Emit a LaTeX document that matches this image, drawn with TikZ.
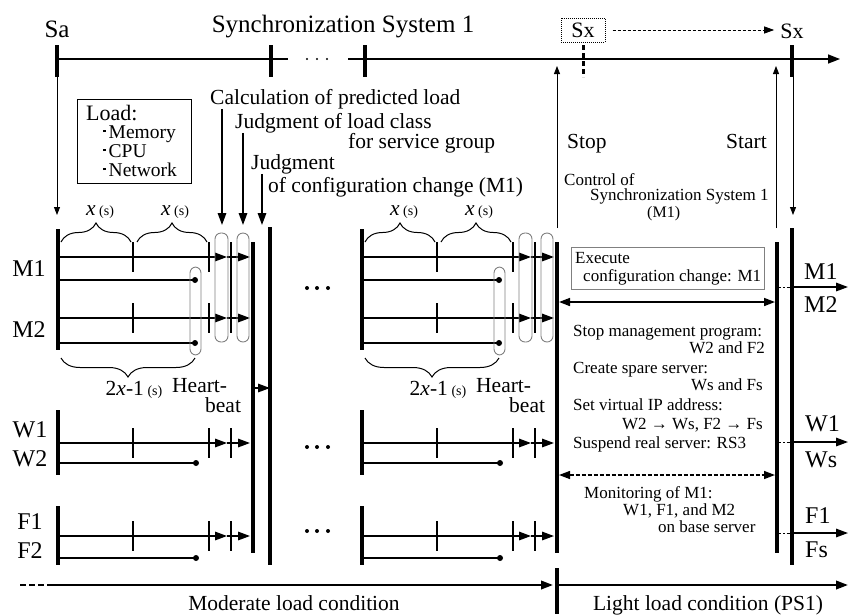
\documentclass[tikz,border=0pt]{standalone}
\usepackage{fontspec}
\setmainfont{Liberation Serif}
\usetikzlibrary{positioning,arrows.meta,decorations.pathreplacing}
\newcommand{\sqb}{\raisebox{0.3em}{\rule{2.5pt}{2.5pt}}\hspace{3pt}}
\newcommand{\secs}{{\fontsize{14}{16}\selectfont(s)}}

\begin{document}
\begin{tikzpicture}[
    x=1pt, y=-1pt,
    big/.style={font=\fontsize{25}{27}\selectfont, inner sep=0pt},
    grp/.style={font=\fontsize{24}{26}\selectfont, inner sep=0pt},
    txt/.style={font=\fontsize{21.5}{23}\selectfont, inner sep=0pt},
    sm/.style={font=\fontsize{17}{19}\selectfont, inner sep=0pt},
    bar/.style={line width=3.6pt},
    ln/.style={line width=1.6pt},
    thinln/.style={line width=0.9pt},
    arr/.style={ln, -{Triangle[length=12pt,width=8.5pt]}},
    tarr/.style={thinln, -{Triangle[length=8pt,width=6pt]}},
    capsule/.style={draw=gray, line width=0.9pt, rounded corners=6pt},
    brc/.style={decorate, decoration={brace, amplitude=19pt}, line width=1pt},
    dot/.style={circle, fill, inner sep=0pt, minimum size=6pt}
]
\useasboundingbox (0,0) rectangle (850,614);

% time axis
\draw[ln] (57,59) -- (288,59);
\draw[ln, -{Triangle[length=12pt,width=9pt]}] (348,59) -- (840,59);
\foreach \xx in {57,271,365,792} \draw[bar] (\xx,45) -- (\xx,77);
\draw[line width=3pt, dash pattern=on 5pt off 3pt] (583,45) -- (583,77);
\foreach \xx in {307,317,327} \fill (\xx,59) circle (1.1pt);

\node[big, anchor=base] (sa) at (57,37) {Sa};
\node[big, anchor=base] (sync) at (343,32) {Synchronization System 1};
\node[draw, densely dotted, line width=1pt, font=\fontsize{22}{24}\selectfont, inner sep=0pt,
      minimum width=44pt, minimum height=24pt] (sx0) at (583,30) {Sx};
\node[font=\fontsize{22}{24}\selectfont, inner sep=0pt, anchor=base] (sx1) at (792,38) {Sx};
\draw[thinln, dash pattern=on 3pt off 2pt, -{Triangle[length=10pt,width=7pt]}]
    ([xshift=7pt]sx0.east) -- ([xshift=-6pt]sx0.east -| sx1.west);

\draw[tarr] (57,77) -- (57,215);
\draw[tarr] (557,228) -- (557,66);
\draw[tarr] (776,228) -- (776,66);
\draw[tarr] (793,77) -- (793,215);

% load box
\node[draw, line width=1pt, minimum width=114pt, minimum height=84pt, inner sep=0pt] (loadbox) at (134,141) {};
\node[font=\fontsize{22}{24}\selectfont, inner sep=0pt, anchor=base west] (load) at (86,120) {Load:};
\node[font=\fontsize{19.5}{21}\selectfont, inner sep=0pt, anchor=base west] (mem) at (103,138) {\sqb Memory};
\node[font=\fontsize{19.5}{21}\selectfont, inner sep=0pt, anchor=base west] (cpu) at (103,157) {\sqb CPU};
\node[font=\fontsize{19.5}{21}\selectfont, inner sep=0pt, anchor=base west] (net) at (103,176) {\sqb Network};

% steps
\node[txt, anchor=base west] (calc) at (210,104) {Calculation of predicted load};
\node[txt, anchor=base west] (jload) at (235,128) {Judgment of load class};
\node[txt, anchor=base west] (jload2) at (348,148) {for service group};
\node[txt, anchor=base west] (jconf) at (251,169) {Judgment};
\node[txt, anchor=base west] (jconf2) at (268,192) {of configuration change (M1)};
\coordinate (ta) at (222,225);
\coordinate (tb) at (243,225);
\coordinate (tc) at (262,225);
\draw[arr] (calc.south -| ta) -- (ta);
\draw[arr] (jload.south -| tb) -- (tb);
\draw[arr] (jconf.south -| tc) -- (tc);

% groups
\node[grp, anchor=base] (m1) at (29,276) {M1};
\node[grp, anchor=base] (m2) at (29,337) {M2};
\node[grp, anchor=base] (w1) at (30,437) {W1};
\node[grp, anchor=base] (w2) at (30,466) {W2};
\node[grp, anchor=base] (f1) at (30,529) {F1};
\node[grp, anchor=base] (f2) at (30,558) {F2};

\foreach \dx in {0,304}{
\begin{scope}[xshift=\dx pt]
  \draw[bar] (58,229) -- (58,350);
  \draw[bar] (58,410) -- (58,475);
  \draw[bar] (58,506) -- (58,565);
  \draw[bar] (253,242) -- (253,553);
  \draw[brc] (61,242) -- (131,242);
  \draw[brc] (137,242) -- (207,242);
  \draw[brc] (195,358) -- (61,358);
  \node[txt, anchor=base] (xa-\dx) at (100,215) {\textit{x}\,\secs};
  \node[txt, anchor=base] (xb-\dx) at (175,215) {\textit{x}\,\secs};
  \node[txt, anchor=base] (xc-\dx) at (134,395) {2\textit{x}-1\,\secs};
  \node[txt, anchor=base west] (hb-\dx) at (172,392) {Heart-};
  \node[txt, anchor=base west] (bt-\dx) at (205,412) {beat};
  \foreach \yy in {257,318,443,536}{
    \draw[arr] (58,\yy) -- (227,\yy);
    \draw[arr] (227,\yy) -- (250,\yy);
    \draw[ln] (133,\yy-15) -- (133,\yy+15);
    \draw[ln] (209,\yy-15) -- (209,\yy+15);
  }
  \draw[ln] (231,242) -- (231,333);
  \foreach \yy in {443,536} \draw[ln] (231,\yy-15) -- (231,\yy+15);
  \foreach \yy/\xe in {280/195,343/195,463/196,558/196}
    \draw[ln] (58,\yy) -- (\xe,\yy) node[dot] (d\yy-\dx) {};
  \draw[capsule] (215,233) rectangle (228,342);
  \draw[capsule] (237,233) rectangle (249,342);
  \draw[capsule] (190,267) rectangle (201,355);
\end{scope}
}

\draw[bar] (270,227) -- (270,565);
\draw[arr] (253,388) -- (270,388);

\foreach \yy in {288,447,531}
  \foreach \xx in {307,317,328} \fill (\xx,\yy) circle (2pt);

% light load side
\node[txt, anchor=base west] (stop) at (567,148) {Stop};
\node[txt, anchor=base west] (start) at (726,148) {Start};
\node[sm, anchor=base west] (ctl1) at (564,185) {Control of};
\node[sm, anchor=base west] (ctl2) at (590,200) {Synchronization System 1};
\node[font=\fontsize{16}{18}\selectfont, inner sep=0pt, anchor=base west] (ctl3) at (647,217) {(M1)};

\draw[bar] (777,242) -- (777,553);
\draw[bar] (792,228) -- (792,565);

\node[draw=gray, line width=0.9pt, minimum width=193pt, minimum height=42pt, inner sep=0pt] (exec) at (667.5,268) {};
\node[sm, anchor=base west] (ex1) at (575,263) {Execute};
\node[sm, anchor=base west] (ex2) at (583,281) {configuration change: M1};
\draw[ln, {Triangle[length=11pt,width=8pt]}-{Triangle[length=11pt,width=8pt]}] (559,302) -- (775,302);

\node[sm, anchor=base west] (s1) at (573,336) {Stop management program:};
\node[sm, anchor=base east] (s2) at (765,353) {W2 and F2};
\node[sm, anchor=base west] (s3) at (573,373) {Create spare server:};
\node[sm, anchor=base east] (s4) at (763,390) {Ws and Fs};
\node[sm, anchor=base west] (s5) at (573,410) {Set virtual IP address:};
\node[sm, anchor=base east] (s6) at (763,429) {W2 → Ws, F2 → Fs};
\node[sm, anchor=base west] (s7) at (573,448) {Suspend real server: RS3};
\draw[line width=1.4pt, dash pattern=on 4pt off 2pt, {Triangle[length=11pt,width=8pt]}-{Triangle[length=11pt,width=8pt]}] (559,475) -- (775,475);
\node[sm, anchor=base west] (mo1) at (584,498) {Monitoring of M1:};
\node[sm, anchor=base west] (mo2) at (623,515) {W1, F1, and M2};
\node[sm, anchor=base west] (mo3) at (658,532) {on base server};

\foreach \yy in {287,442,533}{
  \draw[thinln, dash pattern=on 4pt off 2pt on 1.5pt off 2pt] (777,\yy) -- (792,\yy);
  \draw[arr] (792,\yy) -- (848,\yy);
}
\node[grp, anchor=base west] (rm1) at (804,279) {M1};
\node[grp, anchor=base west] (rm2) at (804,312) {M2};
\node[grp, anchor=base west] (rw1) at (805,431) {W1};
\node[grp, anchor=base west] (rws) at (805,467) {Ws};
\node[grp, anchor=base west] (rf1) at (805,523) {F1};
\node[grp, anchor=base west] (rfs) at (805,557) {Fs};

% load conditions
\draw[line width=2.2pt, dash pattern=on 6pt off 3pt] (20,585) -- (50,585);
\draw[arr, line width=2.2pt] (50,585) -- (553,585);
\draw[bar] (557,568) -- (557,614);
\draw[arr, line width=2.2pt] (559,585) -- (848,585);
\node[txt, anchor=base] (mod) at (294,610) {Moderate load condition};
\node[txt, anchor=base] (light) at (708,610) {Light load condition (PS1)};
\end{tikzpicture}
\end{document}
